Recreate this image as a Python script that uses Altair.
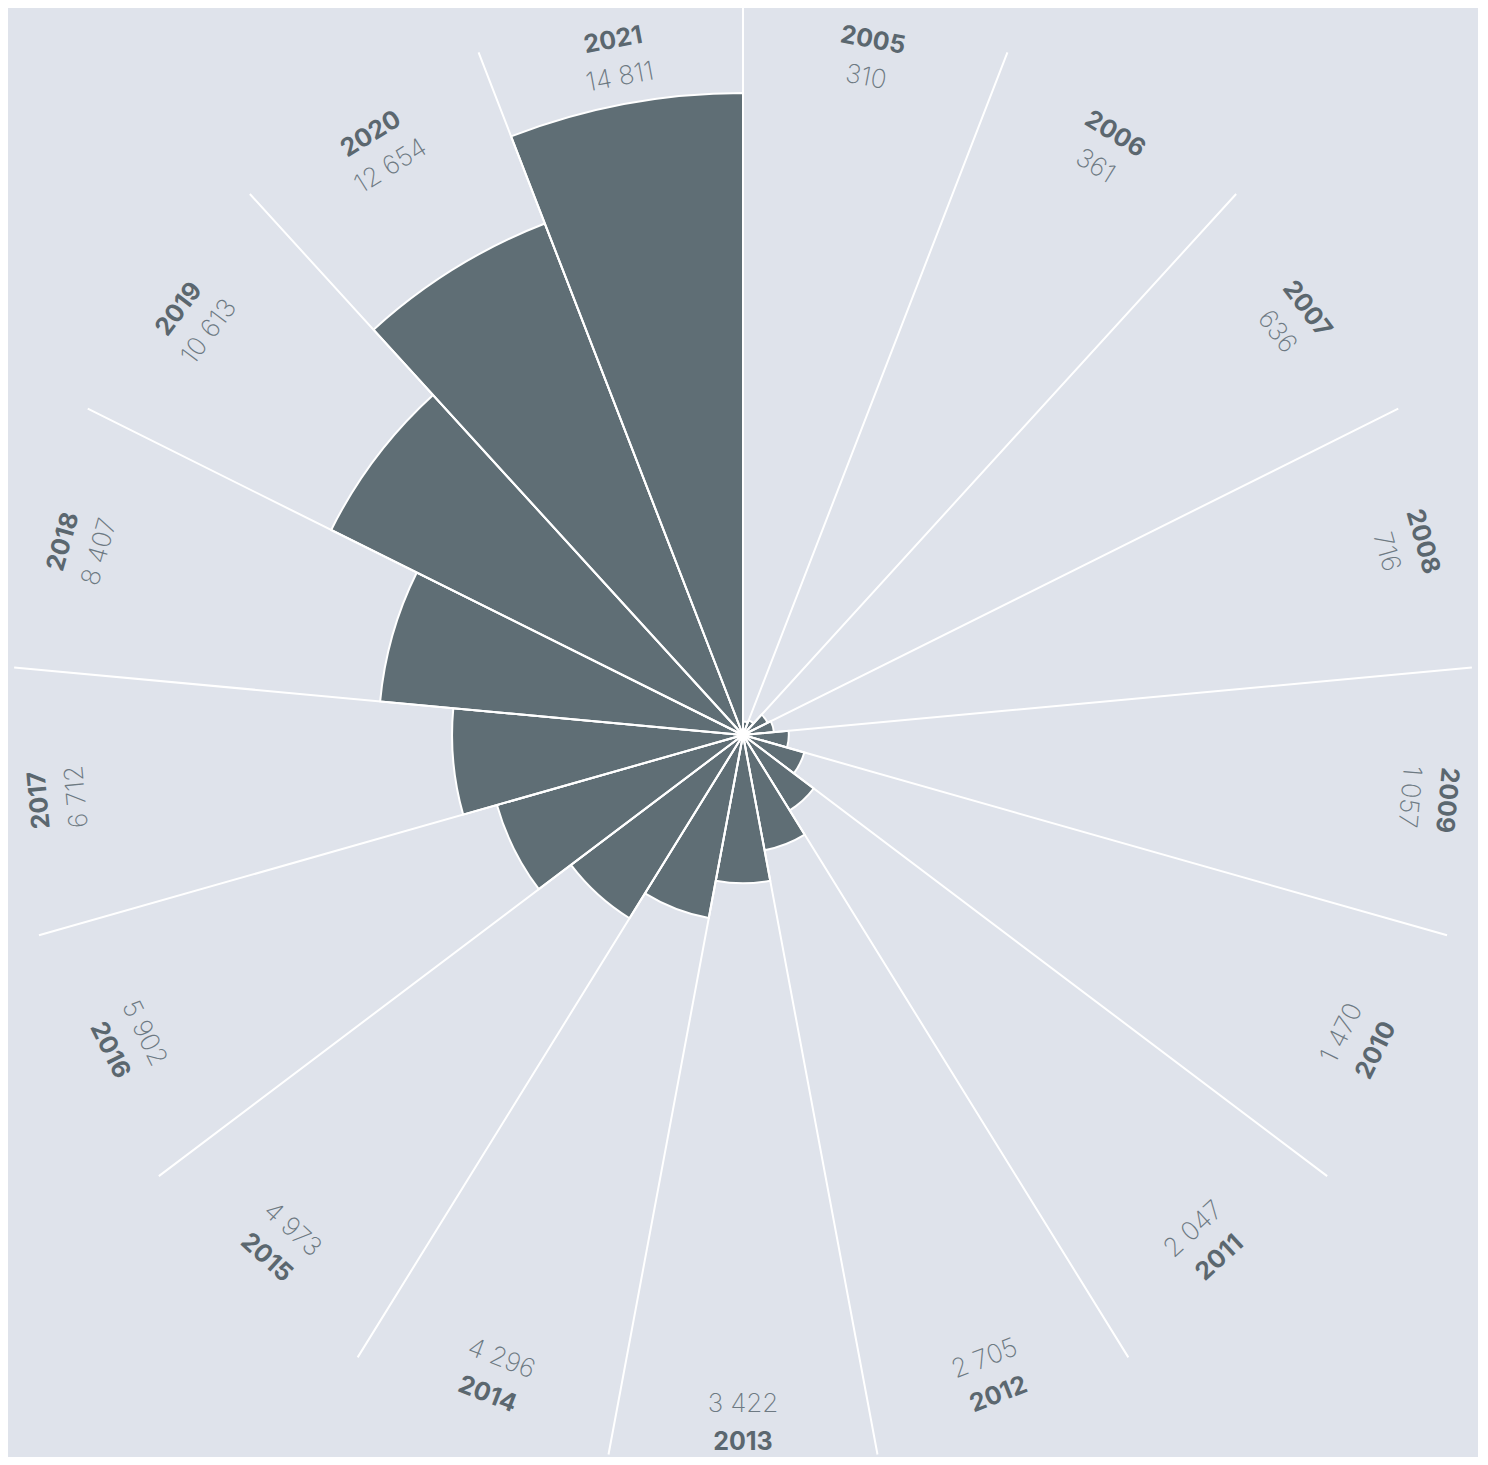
import altair as alt
import pandas as pd

years = [2005, 2006, 2007, 2008, 2009, 2010, 2011, 2012, 2013,
         2014, 2015, 2016, 2017, 2018, 2019, 2020, 2021]
values = [310, 361, 636, 716, 1057, 1470, 2047, 2705, 3422,
          4296, 4973, 5902, 6712, 8407, 10613, 12654, 14811]

n = len(years)
df = pd.DataFrame({
    "year": [str(y) for y in years],
    "value": values,
    "label": [f"{v:,}".replace(",", " ") for v in values],
    "i0": list(range(n)),
    "i1": [i + 1 for i in range(n)],
})

BG = "#dfe3eb"
BAR = "#5f6e75"
YEAR_C = "#5b676f"
VAL_C = "#6d7982"
CX, CY = 735, 727

theta_scale = alt.Scale(domain=[0, n], range=[0, 6.283185307179586])

base = alt.Chart(df).transform_calculate(
    mid="datum.i0 + 0.5",
    deg="(datum.i0 + 0.5) * 360 / " + str(n),
).transform_calculate(
    rot="(datum.deg > 100 && datum.deg < 260) ? datum.deg - 180 + 360 : datum.deg"
)

bars = base.mark_arc(fill=BAR, stroke="white", strokeWidth=2).encode(
    x=alt.value(CX), y=alt.value(CY),
    theta=alt.Theta("i0:Q", scale=theta_scale),
    theta2="i1:Q",
    radius=alt.Radius("value:Q", scale=alt.Scale(type="linear", zero=True,
                                                 domain=[0, 14811], range=[0, 642])),
)

spokes = base.mark_arc(stroke="white", strokeWidth=2, fillOpacity=0).encode(
    x=alt.value(CX), y=alt.value(CY),
    theta=alt.Theta("i0:Q", scale=theta_scale),
    theta2="i0:Q",
    radius=alt.value(732),
)

year_text = base.mark_text(font="Inter", fontWeight="bold", fontSize=25,
                           color=YEAR_C, align="center", baseline="middle").encode(
    x=alt.value(CX), y=alt.value(CY),
    theta=alt.Theta("mid:Q", scale=theta_scale),
    radius=alt.value(707),
    angle=alt.Angle("rot:Q", scale=None),
    text="year:N",
)

val_text = base.mark_text(font="Inter", fontWeight=200, fontSize=26,
                          color=VAL_C, align="center", baseline="middle").encode(
    x=alt.value(CX), y=alt.value(CY),
    theta=alt.Theta("mid:Q", scale=theta_scale),
    radius=alt.value(669),
    angle=alt.Angle("rot:Q", scale=None),
    text="label:N",
)

chart = alt.layer(bars, spokes, year_text, val_text).properties(
    width=1470, height=1449, padding=0, background=BG,
    autosize=alt.AutoSizeParams(type="none"),
).configure_view(stroke=None)

chart.save("out.html", embed_options={"renderer": "svg", "actions": False})
